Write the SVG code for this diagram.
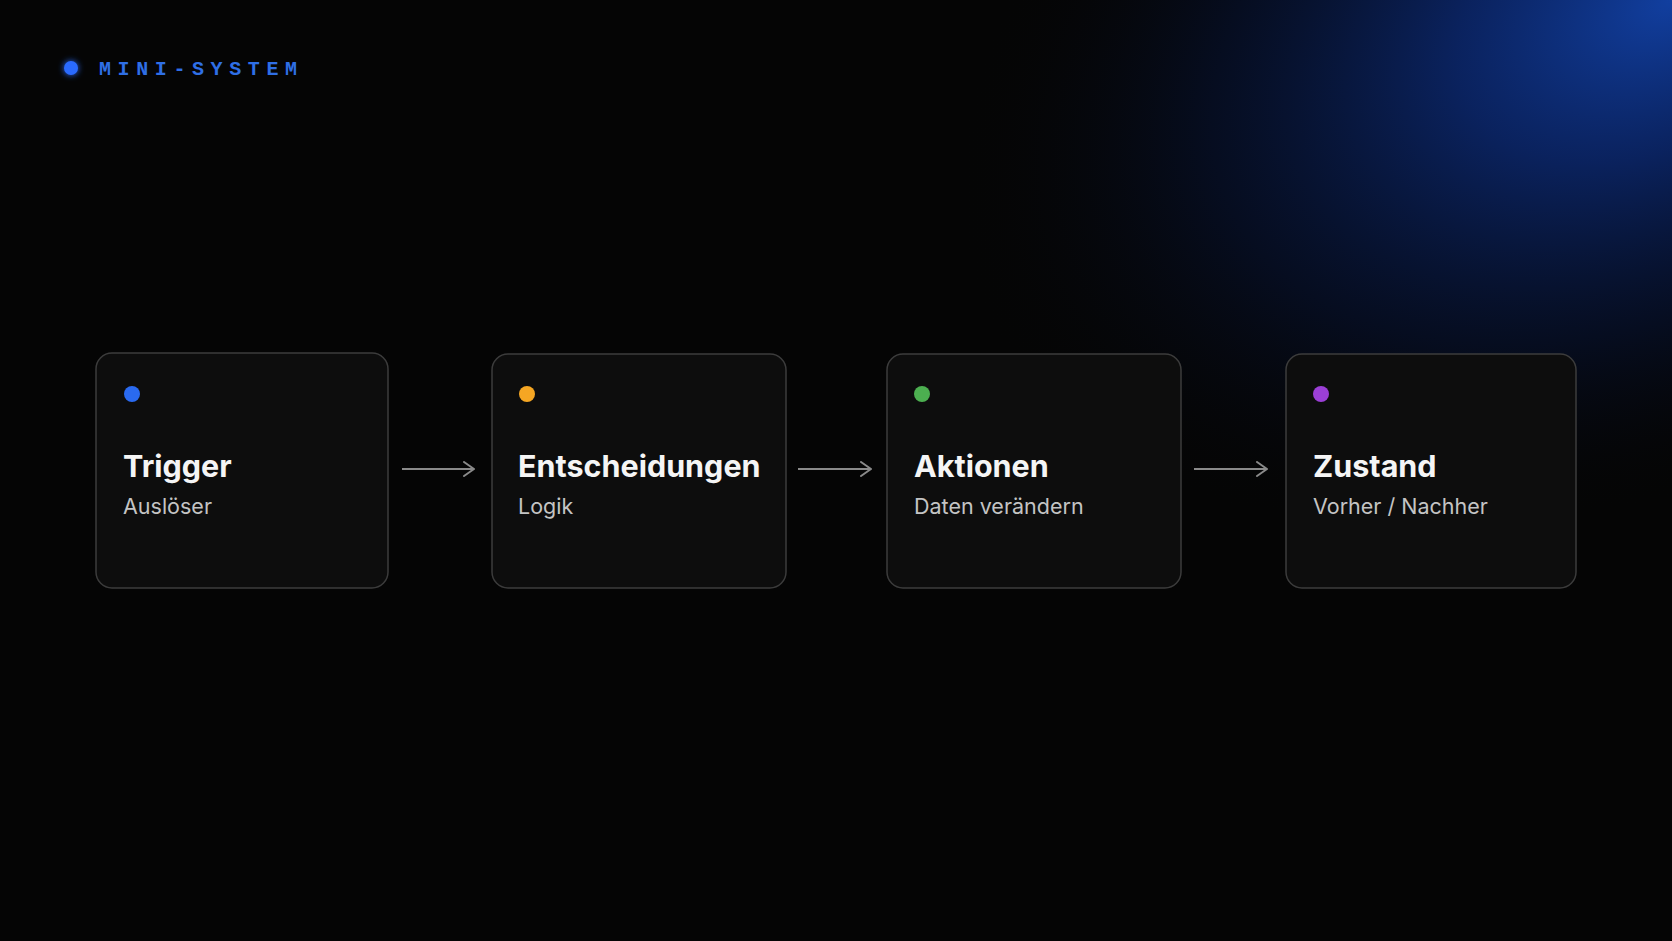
<svg xmlns="http://www.w3.org/2000/svg" width="1672" height="941" viewBox="0 0 1672 941">
<defs>
<radialGradient id="glow" gradientUnits="userSpaceOnUse" cx="1672" cy="0" r="760" gradientTransform="translate(1672 0) rotate(-25) scale(1 0.62) translate(-1672 0)">
<stop offset="0" stop-color="#1242a8" stop-opacity="0.95"/>
<stop offset="0.3" stop-color="#0c2c7c" stop-opacity="0.75"/>
<stop offset="0.65" stop-color="#07163f" stop-opacity="0.45"/>
<stop offset="1" stop-color="#050505" stop-opacity="0"/>
</radialGradient>
<filter id="dotglow" x="-100%" y="-100%" width="300%" height="300%">
<feGaussianBlur stdDeviation="3" result="b"/>
<feMerge><feMergeNode in="b"/><feMergeNode in="SourceGraphic"/></feMerge>
</filter>
<marker id="arr" viewBox="0 0 12 16" refX="11" refY="8" markerWidth="12" markerHeight="16" markerUnits="userSpaceOnUse" orient="auto">
<path d="M1 1 L11 8 L1 15" fill="none" stroke="#8a8a8a" stroke-width="2" stroke-linecap="round" stroke-linejoin="round"/>
</marker>
<style>
.card{fill:#0d0d0d;stroke:#3c3c3c;stroke-width:1.5}
.title{font-family:Inter,"Liberation Sans",sans-serif;font-weight:700;font-size:30.5px;fill:#f5f5f5}
.sub{font-family:Inter,"Liberation Sans",sans-serif;font-weight:400;font-size:21.5px;fill:#c4c4c4}
.conn{stroke:#8a8a8a;stroke-width:2;fill:none}
.hdr{font-family:"Liberation Mono","DejaVu Sans Mono",monospace;font-weight:700;font-size:20px;fill:#2f6fe6;letter-spacing:6.6px}
</style>
</defs>
<rect width="1672" height="941" fill="#050505"/>
<rect width="1672" height="941" fill="url(#glow)"/>
<g id="header">
<circle cx="71" cy="68" r="7" fill="#2a6bff" filter="url(#dotglow)"/>
<text class="hdr" x="99" y="75">MINI-SYSTEM</text>
</g>
<g id="connectors">
<line class="conn" x1="402" y1="469" x2="474" y2="469" marker-end="url(#arr)"/>
<line class="conn" x1="798" y1="469" x2="871" y2="469" marker-end="url(#arr)"/>
<line class="conn" x1="1194" y1="469" x2="1267" y2="469" marker-end="url(#arr)"/>
</g>
<g id="node-trigger">
<rect class="card" x="96" y="353" width="292" height="235" rx="16"/>
<circle cx="132" cy="394" r="8" fill="#2a6af0"/>
<text class="title" x="123" y="477">Trigger</text>
<text class="sub" x="123" y="514">Auslöser</text>
</g>
<g id="node-entscheidungen">
<rect class="card" x="492" y="354" width="294" height="234" rx="16"/>
<circle cx="527" cy="394" r="8" fill="#f5a623"/>
<text class="title" x="518" y="477">Entscheidungen</text>
<text class="sub" x="518" y="514">Logik</text>
</g>
<g id="node-aktionen">
<rect class="card" x="887" y="354" width="294" height="234" rx="16"/>
<circle cx="922" cy="394" r="8" fill="#4caf50"/>
<text class="title" x="914" y="477">Aktionen</text>
<text class="sub" x="914" y="514">Daten verändern</text>
</g>
<g id="node-zustand">
<rect class="card" x="1286" y="354" width="290" height="234" rx="16"/>
<circle cx="1321" cy="394" r="8" fill="#9b3fd6"/>
<text class="title" x="1313" y="477">Zustand</text>
<text class="sub" x="1313" y="514">Vorher / Nachher</text>
</g>
</svg>
